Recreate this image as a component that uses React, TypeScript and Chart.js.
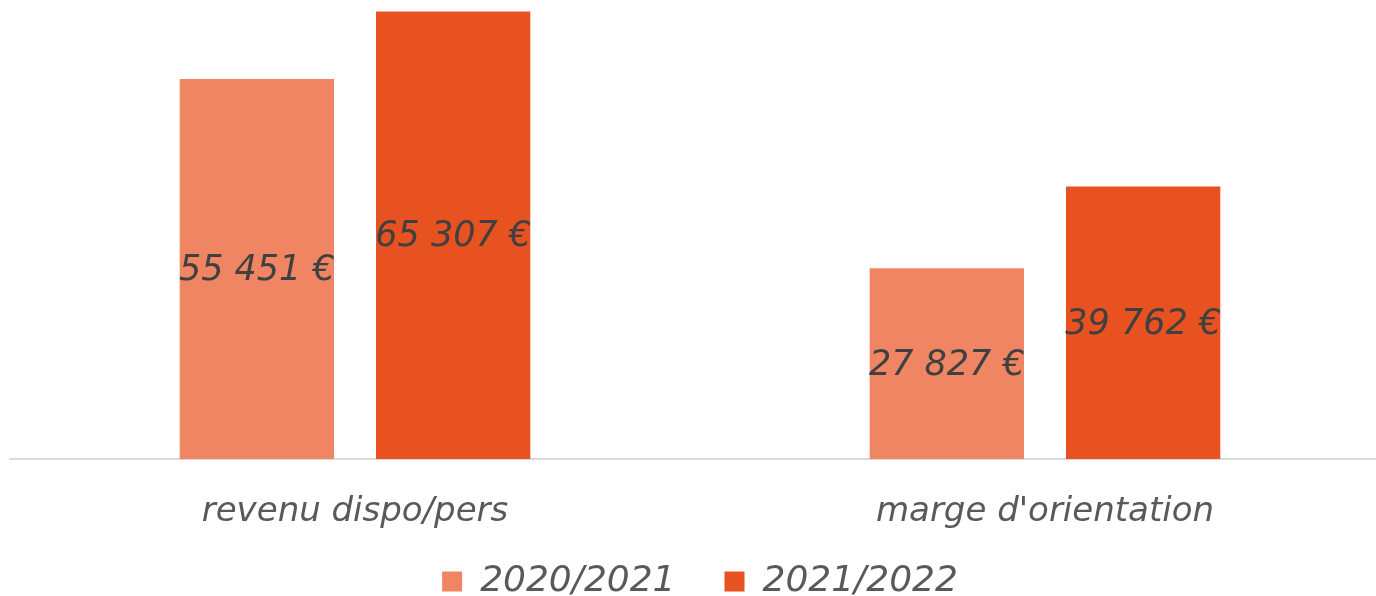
import React, { useEffect, useRef } from "react";
import { Chart, registerables } from "chart.js";

Chart.register(...registerables);

const categories = ["revenu dispo/pers", "marge d'orientation"];
const seriesNames = ["2020/2021", "2021/2022"];
const values2020 = [55451, 27827];
const values2021 = [65307, 39762];
const colors = ["#EF8563", "#E85120"];

const FONT = "'DejaVu Sans', sans-serif";

const fmt = (v: number) => {
  const s = Math.round(v).toString().replace(/\B(?=(\d{3})+(?!\d))/g, " ");
  return s + " €";
};

const labelPlugin = {
  id: "barLabels",
  afterDatasetsDraw(chart: any) {
    const ctx = chart.ctx;
    ctx.save();
    ctx.font = `oblique 35px ${FONT}`;
    ctx.fillStyle = "#404040";
    ctx.textAlign = "center";
    ctx.textBaseline = "middle";
    chart.data.datasets.forEach((ds: any, i: number) => {
      const meta = chart.getDatasetMeta(i);
      meta.data.forEach((bar: any, j: number) => {
        const y = (bar.y + bar.base) / 2 + 2;
        ctx.fillText(fmt(ds.data[j]), bar.x, y);
      });
    });
    ctx.restore();
  },
};

export default function App() {
  const ref = useRef<HTMLCanvasElement>(null);
  useEffect(() => {
    if (!ref.current) return;
    const chart = new Chart(ref.current, {
      type: "bar",
      data: {
        labels: categories,
        datasets: [
          { label: seriesNames[0], data: values2020, backgroundColor: colors[0] },
          { label: seriesNames[1], data: values2021, backgroundColor: colors[1] },
        ],
      },
      options: {
        animation: false,
        responsive: false,
        devicePixelRatio: 1,
        layout: { padding: { left: 10, right: 0, top: 0, bottom: 0 } },
        datasets: { bar: { categoryPercentage: 0.569, barPercentage: 0.786 } },
        scales: {
          x: {
            grid: { display: false, drawTicks: true, tickLength: 196.5 },
            border: { display: true, color: "#d9d9d9", width: 2 },
            ticks: {
              color: "#595959",
              font: { family: FONT, size: 34, style: "oblique", lineHeight: 1 },
              padding: -70.5,
              mirror: true,
            },
          },
          y: {
            display: false,
            min: 0,
            max: 67000,
          },
        },
        plugins: {
          legend: {
            position: "bottom",
            maxHeight: 81.5,
            labels: {
              color: "#595959",
              font: { family: FONT, size: 36, style: "oblique" },
              boxWidth: 20,
              boxHeight: 20,
              padding: 49,
            },
          },
          tooltip: { enabled: false },
        },
      },
      plugins: [labelPlugin],
    });
    return () => chart.destroy();
  }, []);
  return (
    <div style={{ position: "fixed", left: 0, top: 0, width: 1376, height: 596, overflow: "hidden", background: "#fff" }}>
      <canvas ref={ref} width={1390} height={596} />
    </div>
  );
}
